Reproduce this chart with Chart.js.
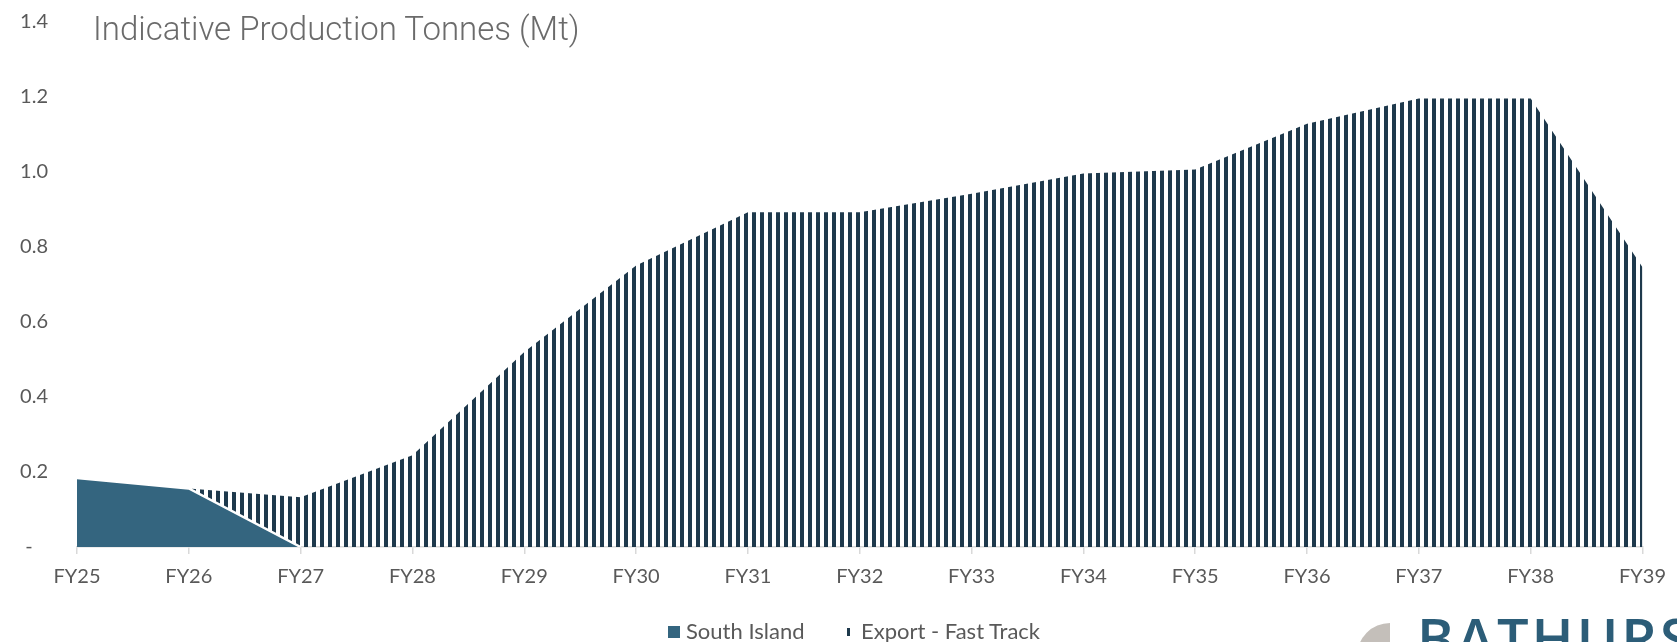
<!DOCTYPE html>
<html>
<head>
<meta charset="utf-8">
<script src="https://cdn.jsdelivr.net/npm/chart.js@4"></script>
<style>
  html, body { margin: 0; padding: 0; background: #fff; overflow: hidden; }
  #wrap { position: relative; width: 1677px; height: 642px; overflow: hidden; }
  #chart { position: absolute; left: 0; top: 0; }
  .title { position: absolute; left: 93px; top: 9px; font-family: Roboto, sans-serif; font-weight: 300; font-size: 33px; color: #6b6b6b; white-space: nowrap; }
  .legend { position: absolute; top: 617px; font-family: Lato, sans-serif; font-size: 22px; color: #595959; white-space: nowrap; }
  .swatch { position: absolute; }
  .logo { position: absolute; left: 1417px; top: 609px; font-family: "Open Sans", sans-serif; font-weight: 600; font-size: 56px; letter-spacing: 3px; color: #2c5d78; line-height: 1; white-space: nowrap; }
  .logoMark { position: absolute; left: 1357px; top: 623px; width: 66px; height: 66px; border-radius: 50%; background: #c4bfba; clip-path: inset(0 50% 0 0); }
</style>
</head>
<body>
<div id="wrap">
  <canvas id="chart" width="1677" height="642"></canvas>
  <div class="title">Indicative Production Tonnes (Mt)</div>
  <div class="swatch" style="left:668px;top:626px;width:12px;height:12px;background:#34657f"></div>
  <div class="legend" style="left:686px">South Island</div>
  <div class="swatch" style="left:847px;top:628px;width:3px;height:8px;background:#1e394c"></div>
  <div class="legend" style="left:861px">Export - Fast Track</div>
  <div class="logoMark"></div>
  <div class="logo">BATHURST</div>
</div>
<script>
// dane z wykresu (Mt)
const categories = ["FY25", "FY26", "FY27", "FY28", "FY29", "FY30", "FY31", "FY32",
  "FY33", "FY34", "FY35", "FY36", "FY37", "FY38", "FY39"];
const southIsland = [0.184, 0.156, 0, 0, 0, 0, 0, 0, 0, 0, 0, 0, 0, 0, 0];
const exportFastTrack = [null, 0, 0.133, 0.245, 0.52, 0.751, 0.893, 0.893,
  0.942, 0.996, 1.007, 1.129, 1.196, 1.196, 0.746];
const yTicks = [0, 0.2, 0.4, 0.6, 0.8, 1.0, 1.2, 1.4];

// paski pionowe dla "Export - Fast Track"
function stripes(color) {
  const c = document.createElement("canvas");
  c.width = 8;
  c.height = 8;
  const g = c.getContext("2d");
  g.fillStyle = color;
  g.fillRect(0, 0, 4, 8);
  return g.createPattern(c, "repeat");
}

const ctx = document.getElementById("chart").getContext("2d");

new Chart(ctx, {
  type: "line",
  data: {
    labels: categories,
    datasets: [
      {
        label: "South Island",
        data: southIsland,
        fill: "origin",
        backgroundColor: "#34657f",
        borderColor: "#ffffff",
        borderWidth: 2.5,
        tension: 0,
        pointRadius: 0,
        segment: {
          borderColor: (s) => (s.p0.parsed.y === 0 && s.p1.parsed.y === 0 ? "transparent" : "#ffffff"),
        },
      },
      {
        label: "Export - Fast Track",
        data: exportFastTrack,
        fill: "-1",
        backgroundColor: stripes("#1e394c"),
        borderWidth: 0,
        borderColor: "transparent",
        tension: 0,
        pointRadius: 0,
      },
    ],
  },
  options: {
    responsive: false,
    animation: false,
    devicePixelRatio: 1,
    layout: { padding: { left: 0, right: 27, top: 22, bottom: 0 } },
    plugins: {
      legend: { display: false },
      tooltip: { enabled: false },
    },
    scales: {
      x: {
        offset: false,
        grid: { drawOnChartArea: false, drawTicks: true, tickLength: 7, color: "#d9d9d9", lineWidth: 1.5 },
        border: { color: "#d9d9d9", width: 1.5 },
        ticks: { color: "#595959", font: { family: "Lato", size: 20 }, padding: 11, maxRotation: 0, autoSkip: false },
        afterFit: (scale) => { scale.height = 95; },
      },
      y: {
        stacked: true,
        min: 0,
        max: 1.4,
        afterBuildTicks: (scale) => { scale.ticks = yTicks.map((v) => ({ value: v })); },
        grid: { display: false, drawTicks: false },
        border: { display: false },
        ticks: {
          color: "#595959",
          font: { family: "Lato", size: 20 },
          padding: 29,
          callback: (v) => (v === 0 ? "-   " : v.toFixed(1)),
        },
        afterFit: (scale) => {
          scale.width = 77;
          // padding etykiet nie może przesuwać obszaru wykresu
          scale.paddingTop = 0;
          scale.paddingBottom = 0;
        },
      },
    },
  },
});
</script>
</body>
</html>
